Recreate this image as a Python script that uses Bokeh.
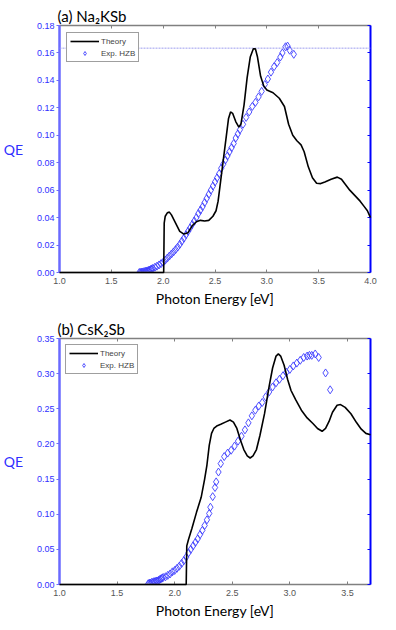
from bokeh.plotting import figure
from bokeh.models import (LinearAxis, Range1d, Span, Legend, LegendItem,
                          FixedTicker, NumeralTickFormatter)
from bokeh.layouts import column
from bokeh.embed import file_html
from bokeh.resources import INLINE

# ---------------- data: panel (a) Na2KSb ----------------
title_a = "(a) Na₂KSb"
theory_a_x = [1.0, 2.005, 2.01, 2.02, 2.04, 2.06, 2.08, 2.12, 2.16, 2.20, 2.24, 2.28, 2.32, 2.36,
              2.40, 2.44, 2.48, 2.51, 2.53, 2.55, 2.58, 2.61, 2.63, 2.65, 2.67, 2.70, 2.73, 2.75,
              2.78, 2.81, 2.84, 2.87, 2.89, 2.91, 2.94, 2.97, 3.00, 3.06, 3.12, 3.17, 3.21, 3.25,
              3.29, 3.33, 3.36, 3.40, 3.44, 3.48, 3.52, 3.56, 3.62, 3.68, 3.72, 3.76, 3.80, 3.85,
              3.90, 3.94, 3.97, 4.0]
theory_a_y = [0.0, 0.0, 0.036, 0.041, 0.0435, 0.044, 0.042, 0.036, 0.030, 0.028, 0.029, 0.034, 0.037, 0.038,
              0.0375, 0.038, 0.041, 0.045, 0.052, 0.064, 0.082, 0.100, 0.112, 0.117, 0.116, 0.110, 0.106, 0.108,
              0.122, 0.142, 0.157, 0.163, 0.163, 0.157, 0.143, 0.136, 0.133, 0.131, 0.127, 0.121, 0.108, 0.100,
              0.096, 0.093, 0.088, 0.077, 0.069, 0.065, 0.0648, 0.066, 0.068, 0.0695, 0.068, 0.064, 0.060, 0.056,
              0.052, 0.048, 0.045, 0.040]
exp_a_x = [1.77, 1.78, 1.79, 1.80, 1.81, 1.82, 1.83, 1.84, 1.85, 1.86, 1.87, 1.88, 1.89, 1.90, 1.92, 1.94,
           1.96, 1.98, 2.00, 2.02, 2.04, 2.06, 2.08, 2.10, 2.12, 2.14, 2.16, 2.18, 2.20, 2.22, 2.24, 2.26,
           2.28, 2.30, 2.32, 2.34, 2.36, 2.38, 2.40, 2.42, 2.44, 2.46, 2.48, 2.50, 2.52, 2.54, 2.56, 2.58,
           2.60, 2.62, 2.64, 2.66, 2.68, 2.70, 2.72, 2.74, 2.77, 2.80, 2.83, 2.86, 2.89, 2.92, 2.95, 2.98,
           3.01, 3.04, 3.07, 3.10, 3.13, 3.15, 3.18, 3.20, 3.22, 3.26]
exp_a_y = [0.0, 0.0, 0.0002, 0.0003, 0.0005, 0.0006, 0.0008, 0.001, 0.0012, 0.0015, 0.0018, 0.0022, 0.0026, 0.003, 0.0038, 0.0046,
           0.0055, 0.0065, 0.0075, 0.009, 0.0105, 0.012, 0.0135, 0.015, 0.0167, 0.0185, 0.0205, 0.0228, 0.025, 0.0275, 0.030, 0.0325,
           0.035, 0.0375, 0.040, 0.043, 0.0455, 0.048, 0.051, 0.054, 0.057, 0.060, 0.063, 0.066, 0.069, 0.072, 0.076, 0.079,
           0.082, 0.085, 0.088, 0.091, 0.094, 0.098, 0.101, 0.104, 0.108, 0.113, 0.117, 0.121, 0.124, 0.128, 0.132, 0.137,
           0.141, 0.146, 0.150, 0.153, 0.157, 0.160, 0.1645, 0.165, 0.162, 0.159]
ref_line_a = 0.1635
x_ticks_a = [1.0, 1.5, 2.0, 2.5, 3.0, 3.5, 4.0]
y_ticks_a = [0.0, 0.02, 0.04, 0.06, 0.08, 0.10, 0.12, 0.14, 0.16, 0.18]

# ---------------- data: panel (b) CsK2Sb ----------------
title_b = "(b) CsK₂Sb"
theory_b_x = [1.0, 2.10, 2.105, 2.12, 2.15, 2.19, 2.23, 2.26, 2.28, 2.30, 2.32, 2.34, 2.37, 2.40, 2.44,
              2.48, 2.51, 2.54, 2.57, 2.60, 2.63, 2.655, 2.68, 2.71, 2.74, 2.78, 2.82, 2.85, 2.88, 2.90,
              2.92, 2.95, 2.98, 3.01, 3.05, 3.10, 3.15, 3.20, 3.24, 3.28, 3.31, 3.34, 3.37, 3.41, 3.44,
              3.48, 3.53, 3.58, 3.62, 3.66, 3.70]
theory_b_y = [0.0, 0.0, 0.055, 0.064, 0.080, 0.103, 0.124, 0.150, 0.170, 0.198, 0.215, 0.222, 0.226, 0.228, 0.231,
              0.234, 0.231, 0.222, 0.206, 0.192, 0.183, 0.180, 0.183, 0.192, 0.212, 0.243, 0.282, 0.308, 0.325, 0.328,
              0.325, 0.312, 0.292, 0.276, 0.263, 0.248, 0.237, 0.229, 0.222, 0.218, 0.222, 0.232, 0.245, 0.255, 0.256,
              0.252, 0.243, 0.230, 0.221, 0.215, 0.213]
exp_b_x = [1.77, 1.78, 1.79, 1.80, 1.81, 1.82, 1.83, 1.84, 1.85, 1.86, 1.87, 1.88, 1.89, 1.90, 1.92, 1.94,
           1.96, 1.98, 2.00, 2.02, 2.04, 2.06, 2.08, 2.10, 2.12, 2.14, 2.16, 2.18, 2.20, 2.22, 2.24, 2.26,
           2.28, 2.30, 2.31, 2.33, 2.35, 2.36, 2.38, 2.40, 2.43, 2.46, 2.49, 2.52, 2.55, 2.58, 2.61, 2.64,
           2.67, 2.70, 2.73, 2.76, 2.79, 2.82, 2.85, 2.88, 2.91, 2.94, 2.97, 3.00, 3.03, 3.06, 3.09, 3.12,
           3.15, 3.17, 3.19, 3.22, 3.25, 3.31, 3.35]
exp_b_y = [0.001, 0.002, 0.002, 0.003, 0.003, 0.004, 0.004, 0.005, 0.005, 0.006, 0.007, 0.008, 0.009, 0.010, 0.011, 0.013,
           0.015, 0.018, 0.020, 0.023, 0.026, 0.030, 0.034, 0.039, 0.045, 0.050, 0.055, 0.060, 0.065, 0.071, 0.077, 0.084,
           0.092, 0.101, 0.110, 0.125, 0.138, 0.146, 0.160, 0.172, 0.182, 0.187, 0.191, 0.197, 0.204, 0.211, 0.220, 0.230,
           0.240, 0.248, 0.254, 0.259, 0.267, 0.274, 0.281, 0.287, 0.292, 0.297, 0.302, 0.306, 0.311, 0.315, 0.319, 0.323,
           0.325, 0.326, 0.326, 0.328, 0.323, 0.301, 0.277]
x_ticks_b = [1.0, 1.5, 2.0, 2.5, 3.0, 3.5]
y_ticks_b = [0.0, 0.05, 0.10, 0.15, 0.20, 0.25, 0.30, 0.35]

legend_labels = ["Theory", "Exp. HZB"]

GRAY = "#808080"
LEFT_BLUE = "#6a6aff"
RIGHT_BLUE = "#0000ff"
LABEL_BLUE = "#2f2fff"
EXP_BLUE = "#3c3cff"
TICK_FONT = "Liberation Sans"
TEXT_FONT = "Lato"


def make_panel(title, tx, ty, ex, ey, xr, yr, xticks, yticks, height, top, bottom,
               legend_margin, ref_line=None):
    p = figure(width=396, height=height, output_backend="svg", toolbar_location=None,
               x_range=Range1d(*xr), y_range=Range1d(*yr),
               min_border_left=57, min_border_right=26, min_border_top=top, min_border_bottom=bottom)
    p.outline_line_color = None
    p.xgrid.visible = False
    p.ygrid.visible = False
    p.background_fill_color = "white"
    p.border_fill_color = "white"

    p.title.text = title
    p.title.text_font = TEXT_FONT
    p.title.text_font_size = "15px"
    p.title.text_font_style = "normal"
    p.title.text_color = "black"
    p.title.align = "left"
    p.title.offset = -2
    p.title.standoff = 1

    xa = p.xaxis[0]
    xa.ticker = FixedTicker(ticks=xticks)
    xa.formatter = NumeralTickFormatter(format="0.0")
    xa.axis_line_color = GRAY
    xa.axis_line_width = 1.5
    xa.major_tick_in = 3
    xa.major_tick_out = 0
    xa.major_tick_line_color = GRAY
    xa.minor_tick_line_color = None
    xa.major_label_text_color = "#555555"
    xa.major_label_text_font = TICK_FONT
    xa.major_label_text_font_size = "9px"
    xa.major_label_standoff = 5
    xa.axis_label = "Photon Energy [eV]"
    xa.axis_label_text_font = TEXT_FONT
    xa.axis_label_text_font_size = "14px"
    xa.axis_label_text_font_style = "normal"
    xa.axis_label_text_color = "black"
    xa.axis_label_standoff = 3

    ya = p.yaxis[0]
    ya.ticker = FixedTicker(ticks=yticks)
    ya.formatter = NumeralTickFormatter(format="0.00")
    ya.axis_line_color = LEFT_BLUE
    ya.axis_line_width = 2.5
    ya.major_tick_in = 0
    ya.major_tick_out = 3
    ya.major_tick_line_color = LEFT_BLUE
    ya.minor_tick_line_color = None
    ya.major_label_text_color = LABEL_BLUE
    ya.major_label_text_font = TICK_FONT
    ya.major_label_text_font_size = "9px"
    ya.major_label_standoff = 2
    ya.axis_label = "QE"
    ya.axis_label_text_font = TEXT_FONT
    ya.axis_label_text_font_size = "14px"
    ya.axis_label_text_font_style = "normal"
    ya.axis_label_text_color = LABEL_BLUE
    ya.axis_label_standoff = 11
    if "axis_label_orientation" in ya.properties():
        ya.axis_label_orientation = "horizontal"

    top_ax = LinearAxis(ticker=FixedTicker(ticks=xticks), axis_line_color=GRAY, axis_line_width=1.5,
                        major_tick_in=3, major_tick_out=0, major_tick_line_color=GRAY,
                        minor_tick_line_color=None, major_label_text_color=None,
                        major_label_text_font_size="1px",
                        major_label_overrides={t: "" for t in xticks},
                        major_label_standoff=0)
    p.add_layout(top_ax, "above")
    right_ax = LinearAxis(ticker=FixedTicker(ticks=yticks), axis_line_color=RIGHT_BLUE, axis_line_width=2,
                          major_tick_in=3, major_tick_out=0, major_tick_line_color=RIGHT_BLUE,
                          minor_tick_line_color=None, major_label_text_color=None,
                          major_label_text_font_size="1px",
                          major_label_overrides={t: "" for t in yticks},
                          major_label_standoff=0)
    p.add_layout(right_ax, "right")

    if ref_line is not None:
        p.add_layout(Span(location=ref_line, dimension="width", line_color="#9c9cee",
                          line_width=1, line_dash="2 1"))

    r_line = p.line(tx, ty, line_color="black", line_width=1.6, level="overlay")
    r_exp = p.scatter(ex, ey, marker="diamond", size=8, fill_color=None,
                      line_color=EXP_BLUE, line_width=0.9)

    leg = Legend(items=[LegendItem(label=legend_labels[0], renderers=[r_line]),
                        LegendItem(label=legend_labels[1], renderers=[r_exp])],
                 location="top_left", margin=legend_margin, padding=3, spacing=2,
                 label_height=10, glyph_height=10, glyph_width=29, label_standoff=2,
                 label_text_font=TICK_FONT, label_text_font_size="8px",
                 border_line_color="#404040", border_line_width=1,
                 background_fill_color="white", background_fill_alpha=1)
    p.add_layout(leg)
    return p


pa = make_panel(title_a, theory_a_x, theory_a_y, exp_a_x, exp_a_y, (1.0, 4.0), (0.0, 0.18),
                x_ticks_a, y_ticks_a, 313, 25, 41, 7, ref_line=ref_line_a)
pb = make_panel(title_b, theory_b_x, theory_b_y, exp_b_x, exp_b_y, (1.0, 3.7), (0.0, 0.35),
                x_ticks_b, y_ticks_b, 317, 25, 46, 6)

layout = column(pa, pb, spacing=0)
open("out.html", "w").write(file_html(layout, INLINE))
